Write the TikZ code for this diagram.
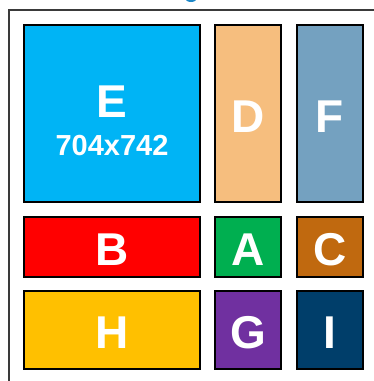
\documentclass[tikz,border=0pt]{standalone}
\usepackage{fontspec}
\setmainfont{Liberation Sans}

\definecolor{titleblue}{HTML}{1E88C8}
\definecolor{framegray}{HTML}{3A3A3A}
\definecolor{tileE}{HTML}{00B4F5}
\definecolor{tileD}{HTML}{F6BE7E}
\definecolor{tileF}{HTML}{74A1C0}
\definecolor{tileB}{HTML}{FF0000}
\definecolor{tileA}{HTML}{00AF50}
\definecolor{tileC}{HTML}{C0690F}
\definecolor{tileH}{HTML}{FFC000}
\definecolor{tileG}{HTML}{7030A0}
\definecolor{tileI}{HTML}{003E6A}

\begin{document}
\begin{tikzpicture}[x=1pt,y=-1pt,
    tile/.style={draw=black,line width=1.4pt,inner sep=0pt},
    bigletter/.style={text=white,inner sep=0pt,font=\bfseries\fontsize{46}{46}\selectfont,
      text height=37pt,text depth=0pt},
    sizetext/.style={text=white,inner sep=0pt,font=\bfseries\fontsize{29}{29}\selectfont}]
    \path[use as bounding box,clip] (0,0) rectangle (374,381);
    % bottom of the cut-off title
    \fill[titleblue] (191,-2) ellipse [x radius=6, y radius=4];
    % outer frame, runs off the right and bottom edges
    \coordinate (fbl) at (9,395);
    \coordinate (ftl) at (9,10);
    \coordinate (ftr) at (395,10);
    \draw[framegray,line width=1.4pt] (fbl) -- (ftl) -- (ftr);
    % large tile with its size
    \node[tile,fill=tileE,minimum width=176pt,minimum height=177pt] (E) at (112,113.5) {};
    \node[bigletter] (Ename) at (112,99) {E};
    \node[sizetext] (Esize) at (112,145.5) {704x742};
    % the other tiles
    \foreach \n/\x/\y/\w/\h in {D/248/113.5/66/177,F/330/113.5/66/177,
        B/112/247/176/60,A/248/247/66/60,C/330/247/66/60,
        H/112/330/176/78,G/248/330/66/78,I/330/330/66/78}
      \node[tile,bigletter,fill=tile\n,minimum width=\w pt,minimum height=\h pt] (\n) at (\x,\y) {\n};
\end{tikzpicture}
\end{document}
